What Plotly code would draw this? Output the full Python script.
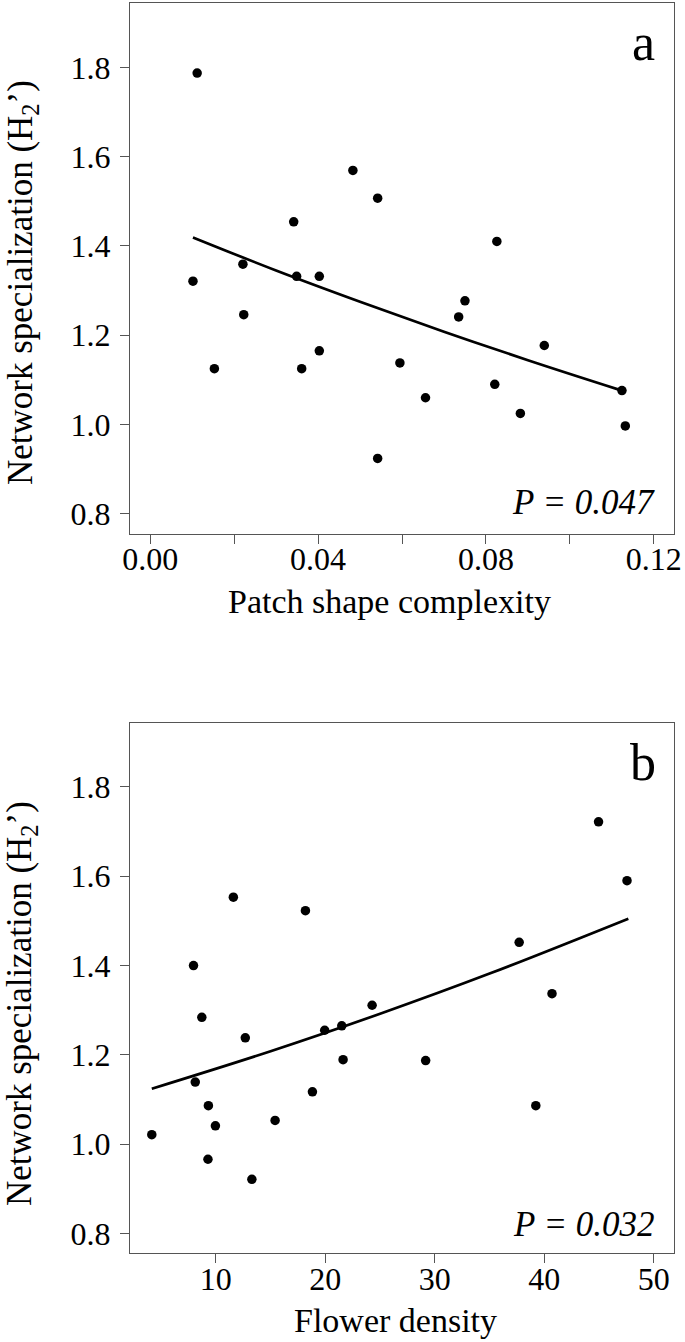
import plotly.graph_objects as go

# ---------------- data ----------------
patch_x = [0.0112, 0.0483, 0.0542, 0.0342, 0.0826, 0.0221, 0.0102, 0.0349, 0.0403,
           0.0750, 0.0735, 0.0223, 0.0153, 0.0361, 0.0403, 0.0595, 0.0939, 0.0656,
           0.0821, 0.1124, 0.0882, 0.1132, 0.0542]
patch_y = [1.787, 1.569, 1.507, 1.454, 1.410, 1.359, 1.321, 1.332, 1.332,
           1.277, 1.241, 1.246, 1.125, 1.125, 1.165, 1.138, 1.177, 1.060,
           1.090, 1.076, 1.025, 0.997, 0.924]
patch_fit_x = [0.0102, 0.03, 0.05, 0.07, 0.09, 0.1124]
patch_fit_y = [1.419, 1.345, 1.275, 1.208, 1.144, 1.076]

flower_x = [44.95, 47.55, 11.60, 18.18, 37.70, 7.96, 40.70, 24.27,
            8.72, 12.69, 19.94, 21.50, 21.62, 29.16, 8.12, 18.82, 9.32, 39.22,
            15.41, 9.96, 4.15, 9.28, 13.29]
flower_y = [1.722, 1.590, 1.553, 1.523, 1.452, 1.400, 1.337, 1.311,
            1.284, 1.238, 1.255, 1.265, 1.189, 1.187, 1.139, 1.117, 1.086, 1.086,
            1.053, 1.041, 1.021, 0.966, 0.921]
flower_fit_x = [4.15, 15, 25, 35, 47.67]
flower_fit_y = [1.124, 1.208, 1.292, 1.382, 1.505]

y_ticks = [0.8, 1.0, 1.2, 1.4, 1.6, 1.8]
y_ticktext = ["0.8", "1.0", "1.2", "1.4", "1.6", "1.8"]
patch_ticks = [0.00, 0.04, 0.08, 0.12]
patch_ticktext = ["0.00", "0.04", "0.08", "0.12"]
patch_minor_ticks = [0.02, 0.06, 0.10]
flower_ticks = [10, 20, 30, 40, 50]
flower_ticktext = ["10", "20", "30", "40", "50"]

y_title = "Network specialization (H<sub>2</sub>’)"
panel_labels = ["a", "b"]
x_titles = ["Patch shape complexity", "Flower density"]
p_texts = ["<i>P = 0.047</i>", "<i>P = 0.032</i>"]

# ---------------- figure ----------------
W, H = 685, 1342
FONT = "Liberation Serif"
fig = go.Figure()

fig.add_trace(go.Scatter(x=patch_x, y=patch_y, mode="markers", xaxis="x", yaxis="y",
                         marker=dict(color="black", size=9.5), showlegend=False))
fig.add_trace(go.Scatter(x=patch_fit_x, y=patch_fit_y, mode="lines", xaxis="x", yaxis="y",
                         line=dict(color="black", width=2.7, shape="spline"), showlegend=False))
fig.add_trace(go.Scatter(x=flower_x, y=flower_y, mode="markers", xaxis="x2", yaxis="y2",
                         marker=dict(color="black", size=9.5), showlegend=False))
fig.add_trace(go.Scatter(x=flower_fit_x, y=flower_fit_y, mode="lines", xaxis="x2", yaxis="y2",
                         line=dict(color="black", width=2.7, shape="spline"), showlegend=False))

def px(xp):
    return xp / W

def py(yp):
    return 1 - yp / H

LINE_COL = "#555555"
axis_common = dict(showline=True, mirror=True, linecolor=LINE_COL, linewidth=1.2,
                   ticks="outside", tickcolor=LINE_COL, tickwidth=1.2, ticklen=9,
                   showgrid=False, zeroline=False, ticklabeloverflow="allow",
                   tickfont=dict(family=FONT, size=32, color="black"))

xdom = [px(130), px(674)]
fig.update_layout(
    width=W, height=H,
    margin=dict(l=0, r=0, t=0, b=0, autoexpand=False),
    paper_bgcolor="white", plot_bgcolor="white",
    xaxis=dict(domain=xdom, range=[-0.0048, 0.1248], tickvals=patch_ticks,
               ticktext=patch_ticktext, anchor="y", ticklabelstandoff=-12,
               minor=dict(tickmode="array", tickvals=patch_minor_ticks, ticks="outside",
                          ticklen=9, tickwidth=1.2, tickcolor=LINE_COL, showgrid=False),
               **axis_common),
    yaxis=dict(domain=[py(533.5), py(3.0)], range=[0.756, 1.944], tickvals=y_ticks,
               ticktext=y_ticktext, anchor="x", ticklabelstandoff=3, **axis_common),
    xaxis2=dict(domain=xdom, range=[2.16, 51.84], tickvals=flower_ticks,
                ticktext=flower_ticktext, anchor="y2", ticklabelstandoff=-12, **axis_common),
    yaxis2=dict(domain=[py(1253), py(722.7)], range=[0.756, 1.944], tickvals=y_ticks,
                ticktext=y_ticktext, anchor="x2", ticklabelstandoff=3, **axis_common),
)

ann = []
# y-axis titles
for yc in (283, 1004):
    ann.append(dict(text=y_title, x=px(22), y=py(yc), xref="paper", yref="paper",
                    textangle=-90, showarrow=False, xanchor="center", yanchor="middle",
                    font=dict(family=FONT, size=35, color="black")))
# x-axis titles
for txt, xc, yc in zip(x_titles, (389, 395), (602, 1320)):
    ann.append(dict(text=txt, x=px(xc), y=py(yc), xref="paper", yref="paper",
                    showarrow=False, xanchor="center", yanchor="middle",
                    font=dict(family=FONT, size=34, color="black")))
# panel letters
for txt, yc in zip(panel_labels, (43, 762)):
    ann.append(dict(text=txt, x=px(643), y=py(yc), xref="paper", yref="paper",
                    showarrow=False, xanchor="center", yanchor="middle",
                    font=dict(family=FONT, size=52, color="black")))
# P values
for txt, yc in zip(p_texts, (503, 1224)):
    ann.append(dict(text=txt, x=px(657), y=py(yc), xref="paper", yref="paper",
                    showarrow=False, xanchor="right", yanchor="middle",
                    font=dict(family=FONT, size=35, color="black")))
fig.update_layout(annotations=ann)

fig.write_html(
    "out.html",
    config={"displayModeBar": False},
    post_script="document.body.style.margin='0';document.body.style.overflow='hidden';",
)
